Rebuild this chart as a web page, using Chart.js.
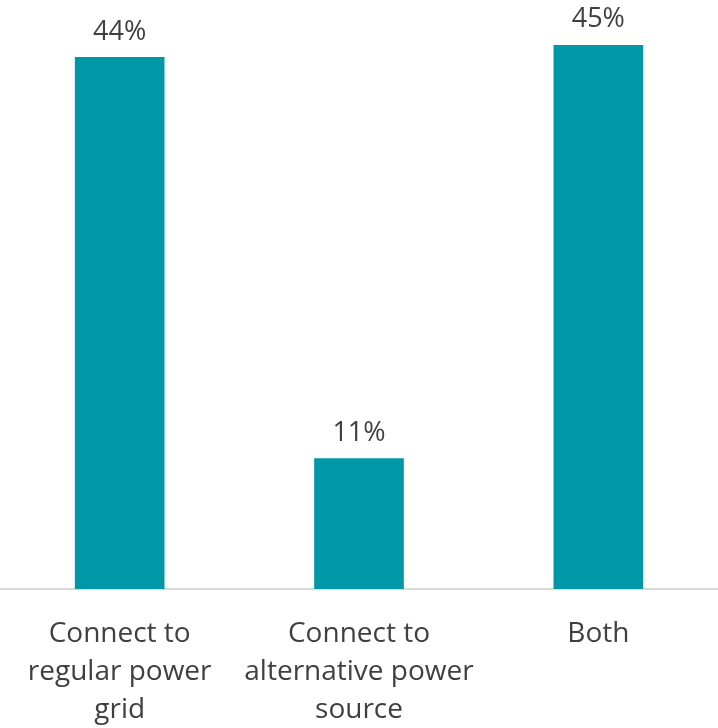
<!DOCTYPE html>
<html>
<head>
<meta charset="utf-8">
<script src="https://cdn.jsdelivr.net/npm/chart.js@4.4.1/dist/chart.umd.min.js"></script>
<style>
  html, body { margin: 0; padding: 0; background: #fff; }
  #wrap { width: 718px; height: 728px; }
</style>
</head>
<body>
<div id="wrap"><canvas id="chart-canvas" width="718" height="728"></canvas></div>
<script>
const categories = [
  ['Connect to', 'regular power', 'grid'],
  ['Connect to', 'alternative power', 'source'],
  ['Both'],
];
const shares = [44, 10.8, 45];
const valueLabels = ['44%', '11%', '45%'];

const textColor = '#404040';
const fontFamily = '"Open Sans", "Noto Sans", sans-serif';

// draws the % above every bar
const barLabels = {
  id: 'barLabels',
  afterDatasetsDraw(chart) {
    const ctx = chart.ctx;
    const meta = chart.getDatasetMeta(0);
    ctx.save();
    ctx.font = '27px ' + fontFamily;
    ctx.fillStyle = textColor;
    ctx.textAlign = 'center';
    ctx.textBaseline = 'bottom';
    meta.data.forEach((bar, i) => {
      ctx.fillText(valueLabels[i], bar.x, bar.y - 12);
    });
    ctx.restore();
  }
};

const ctx = document.getElementById('chart-canvas');
new Chart(ctx, {
  type: 'bar',
  data: {
    labels: categories,
    datasets: [
      {
        data: shares,
        backgroundColor: '#0097A7',
        barThickness: 89,
      },
    ],
  },
  options: {
    responsive: false,
    animation: false,
    layout: { padding: { top: 9, left: 0, right: 0, bottom: 0 } },
    plugins: {
      legend: { display: false },
      tooltip: { enabled: false },
    },
    scales: {
      y: {
        display: false,
        min: 0,
        max: 48,
      },
      x: {
        grid: { display: false },
        border: { display: true, color: '#d9d9d9', width: 2 },
        afterFit: (axis) => { axis.height = 139; },
        ticks: {
          color: textColor,
          font: { family: fontFamily, size: 28, lineHeight: 1.36 },
          padding: 18,
          maxRotation: 0,
          autoSkip: false,
        },
      },
    },
  },
  plugins: [barLabels],
});
</script>
</body>
</html>
